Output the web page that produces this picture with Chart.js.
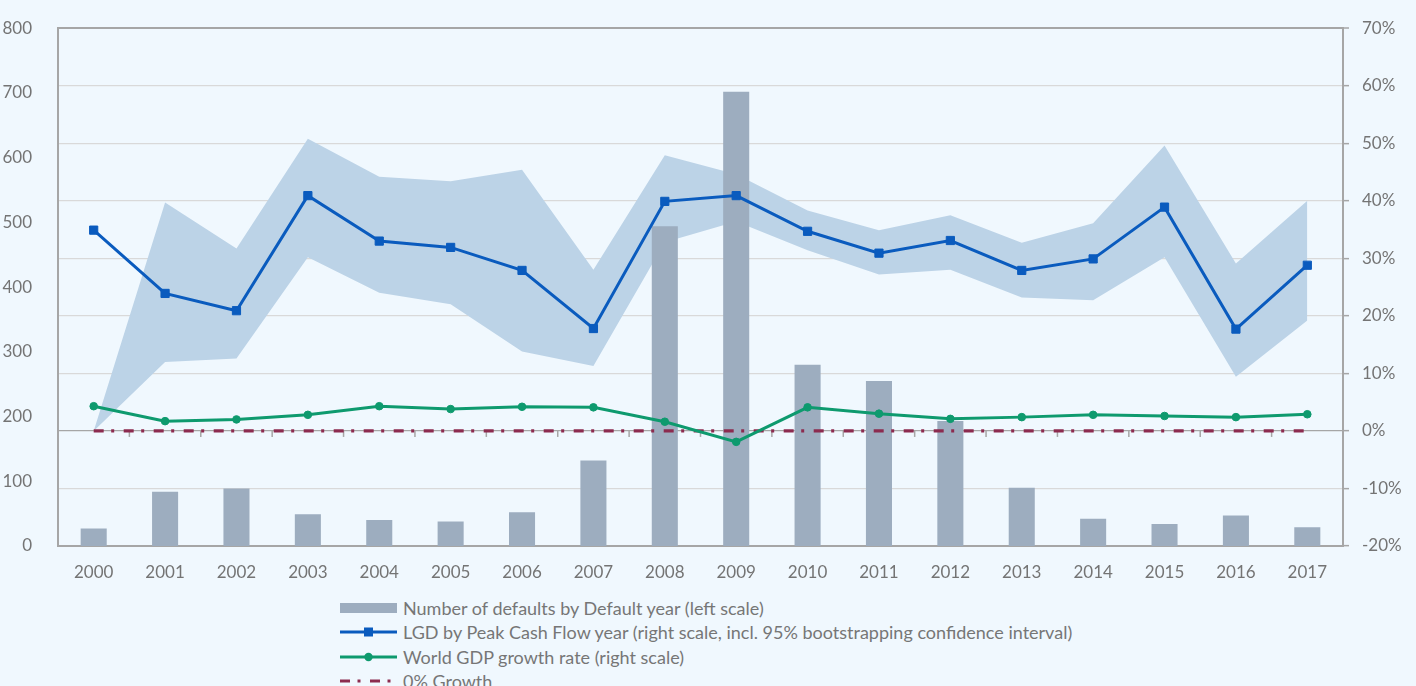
<!DOCTYPE html>
<html>
<head>
<meta charset="utf-8">
<script src="https://cdn.jsdelivr.net/npm/chart.js@4.4.1/dist/chart.umd.min.js"></script>
<style>
  html, body { margin: 0; padding: 0; width: 1416px; height: 686px; overflow: hidden; background: #F0F8FE; }
  #wrap { position: absolute; left: 0; top: 0; width: 1416px; height: 590px; }
  #legend { position: absolute; left: 340px; top: 596px; font-family: Lato, "Open Sans", sans-serif; font-size: 18px; color: #767676; }
  .row { height: 24.3px; display: flex; align-items: center; white-space: nowrap; }
  .row svg { width: 57px; height: 24px; margin-right: 6px; flex: none; }
</style>
</head>
<body>
<div id="wrap"><canvas id="c"></canvas></div>
<div id="legend"></div>
<script>
const years = ["2000","2001","2002","2003","2004","2005","2006","2007","2008","2009","2010","2011","2012","2013","2014","2015","2016","2017"];
const defaults = [27, 84, 89, 49, 40, 38, 52, 132, 494, 702, 280, 255, 193, 90, 42, 34, 47, 29];
const lgd = [34.9, 23.9, 20.9, 40.9, 33.0, 31.9, 27.9, 17.8, 39.9, 40.9, 34.7, 30.9, 33.1, 27.9, 29.9, 38.9, 17.7, 28.8];
const lgdUpper = [0, 39.7, 31.7, 50.8, 44.2, 43.4, 45.4, 28.0, 47.9, 44.6, 38.3, 34.9, 37.5, 32.7, 36.1, 49.6, 29.1, 40.0];
const lgdLower = [0, 12.0, 12.6, 30.2, 24.0, 22.0, 13.8, 11.3, 32.8, 36.4, 31.4, 27.2, 28.0, 23.2, 22.7, 30.2, 9.4, 19.2];
const gdp = [4.3, 1.7, 2.0, 2.8, 4.3, 3.8, 4.2, 4.1, 1.6, -1.9, 4.1, 3.0, 2.1, 2.4, 2.8, 2.6, 2.4, 2.9];
const zeroGrowth = [0, 0, 0, 0, 0, 0, 0, 0, 0, 0, 0, 0, 0, 0, 0, 0, 0, 0];
const leftTicks = { min: 0, max: 800, step: 100 };
const rightTicks = { min: -20, max: 70, step: 10 };

const C = {
  bar: '#9DADBF', band: '#BCD3E7', blue: '#0A5BBE', green: '#0E9A6E', maroon: '#8C2B4F',
  grid: '#D9D9D9', axis: '#A6A6A6', text: '#747474'
};
const FONT = { family: 'Lato, "Open Sans", sans-serif', size: 17 };
const DASH = [10, 7.5, 3, 9.5];

const zeroTicks = {
  id: 'zeroTicks',
  beforeDatasetsDraw(chart) {
    const xs = chart.scales.x, y2 = chart.scales.y2, ctx = chart.ctx;
    const y0 = y2.getPixelForValue(0);
    ctx.save();
    ctx.strokeStyle = C.axis;
    ctx.lineWidth = 1.5;
    for (let i = 1; i < years.length; i++) {
      const px = (xs.getPixelForValue(i - 1) + xs.getPixelForValue(i)) / 2;
      ctx.beginPath();
      ctx.moveTo(px, y0);
      ctx.lineTo(px, y0 + 6);
      ctx.stroke();
    }
    ctx.restore();
  }
};

new Chart(document.getElementById('c'), {
  data: {
    labels: years,
    datasets: [
      { type: 'line', label: 'upper', data: lgdUpper, yAxisID: 'y2', borderWidth: 0, pointRadius: 0, fill: '+1', backgroundColor: C.band, borderColor: 'rgba(0,0,0,0)', order: 10, tension: 0 },
      { type: 'line', label: 'lower', data: lgdLower, yAxisID: 'y2', borderWidth: 0, pointRadius: 0, fill: false, borderColor: 'rgba(0,0,0,0)', order: 9, tension: 0 },
      { type: 'bar', label: 'Number of defaults by Default year (left scale)', data: defaults, yAxisID: 'y', backgroundColor: C.bar, barPercentage: 0.365, categoryPercentage: 1, order: 5 },
      { type: 'line', label: '0% Growth', data: zeroGrowth, yAxisID: 'y2', borderColor: C.maroon, borderWidth: 3.2, borderDash: DASH, pointRadius: 0, fill: false, order: 3 },
      { type: 'line', label: 'World GDP growth rate (right scale)', data: gdp, yAxisID: 'y2', borderColor: C.green, backgroundColor: C.green, borderWidth: 3, pointRadius: 3.8, pointBorderWidth: 1, pointStyle: 'circle', fill: false, order: 2, tension: 0 },
      { type: 'line', label: 'LGD by Peak Cash Flow year (right scale, incl. 95% bootstrapping confidence interval)', data: lgd, yAxisID: 'y2', borderColor: C.blue, backgroundColor: C.blue, borderWidth: 3, pointRadius: 5.8, pointBorderWidth: 1, pointStyle: 'rect', fill: false, order: 1, tension: 0 }
    ]
  },
  options: {
    responsive: true,
    maintainAspectRatio: false,
    animation: false,
    events: [],
    layout: { padding: { top: 27, left: 0, right: 0, bottom: 0 } },
    plugins: { legend: { display: false }, tooltip: { enabled: false } },
    scales: {
      x: {
        offset: true,
        grid: { display: false },
        border: { display: true, color: C.axis, width: 2 },
        ticks: { color: C.text, font: FONT, padding: 8, maxRotation: 0 },
        afterFit(s) { s.height = 44; }
      },
      y: {
        position: 'left',
        min: leftTicks.min, max: leftTicks.max,
        ticks: { stepSize: leftTicks.step, color: C.text, font: FONT, padding: 18 },
        grid: { display: false },
        border: { display: true, color: C.axis, width: 2 },
        afterFit(s) { s.width = 58; }
      },
      y2: {
        position: 'right',
        min: rightTicks.min, max: rightTicks.max,
        ticks: { stepSize: rightTicks.step, color: C.text, font: FONT, padding: 13, callback: v => v + '%' },
        grid: {
          color: ctx => (ctx.tick && (ctx.tick.value === 0 || ctx.tick.value === 70)) ? C.axis : C.grid,
          lineWidth: ctx => (ctx.tick && ctx.tick.value === 70) ? 2 : 1.3,
          drawTicks: true, tickLength: 6, tickColor: C.axis, tickWidth: 1.5
        },
        border: { display: true, color: C.axis, width: 2 },
        afterFit(s) { s.width = 73; }
      }
    }
  },
  plugins: [zeroTicks]
});

// HTML legend
const legendItems = [
  { text: 'Number of defaults by Default year (left scale)', svg: `<rect x="0" y="7" width="57" height="10" fill="${C.bar}"/>` },
  { text: 'LGD by Peak Cash Flow year (right scale, incl. 95% bootstrapping confidence interval)', svg: `<line x1="0" y1="12" x2="57" y2="12" stroke="${C.blue}" stroke-width="3"/><rect x="24" y="7.5" width="9" height="9" fill="${C.blue}"/>` },
  { text: 'World GDP growth rate (right scale)', svg: `<line x1="0" y1="12" x2="57" y2="12" stroke="${C.green}" stroke-width="3"/><circle cx="28.5" cy="12" r="4.2" fill="${C.green}"/>` },
  { text: '0% Growth', svg: `<line x1="0" y1="12" x2="57" y2="12" stroke="${C.maroon}" stroke-width="3" stroke-dasharray="${DASH.join(' ')}"/>` }
];
document.getElementById('legend').innerHTML = legendItems.map(it =>
  `<div class="row"><svg viewBox="0 0 57 24">${it.svg}</svg><span>${it.text}</span></div>`).join('');
</script>
</body>
</html>
